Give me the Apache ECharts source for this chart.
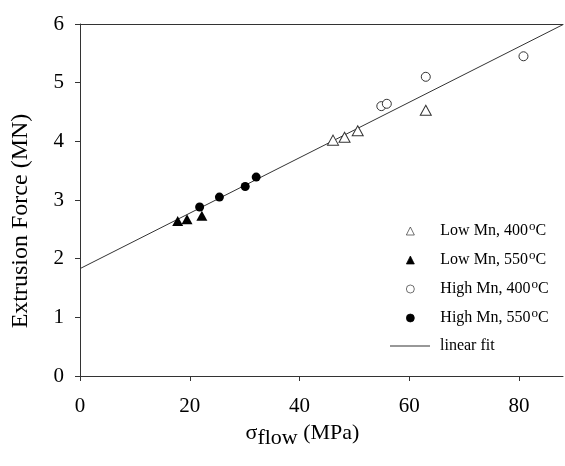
<!DOCTYPE html>
<html>
<head>
<meta charset="utf-8">
<script src="https://cdn.jsdelivr.net/npm/echarts@6/dist/echarts.min.js"></script>
<style>html,body{margin:0;padding:0;background:#fff}#c{width:565px;height:466px}</style>
</head>
<body>
<div id="c"></div>
<script>
// Data
const lowMn400X = [46.1, 48.2, 50.6, 63.0];
const lowMn400Y = [4.02, 4.07, 4.18, 4.53];
const lowMn550X = [17.8, 19.5, 22.2];
const lowMn550Y = [2.64, 2.67, 2.73];
const highMn400X = [54.9, 55.9, 63.0, 80.8];
const highMn400Y = [4.60, 4.64, 5.10, 5.45];
const highMn550X = [21.8, 25.4, 30.1, 32.1];
const highMn550Y = [2.88, 3.05, 3.23, 3.39];
const fitX = [0, 88];
const fitY = [1.83, 5.99];
const xTicks = [0, 20, 40, 60, 80];
const yTicks = [0, 1, 2, 3, 4, 5, 6];
const seriesNames = ['Low Mn, 400{sup|o}C', 'Low Mn, 550{sup|o}C', 'High Mn, 400{sup|o}C', 'High Mn, 550{sup|o}C', 'linear fit'];

const zip = (xs, ys) => xs.map((x, i) => [x, ys[i]]);
const font = 'Liberation Serif';
const axisColor = '#333';

const chart = echarts.init(document.getElementById('c'), null, {renderer: 'canvas'});
const supStyle = { fontFamily: font, fontSize: 13, color: '#000', verticalAlign: 'top', padding: [0, 0, 9, 1] };
const legendText = {
  fontFamily: font, fontSize: 16, color: '#000', padding: [0, 0, 0, 21],
  rich: { sup: supStyle }
};
chart.setOption({
  animation: false,
  grid: { left: 80, right: 2, top: 24, bottom: 90, containLabel: false },
  xAxis: [{
    type: 'value', min: 0, max: 88, interval: 20,
    name: 'σ{sub|flow} (MPa)', nameLocation: 'middle', nameGap: 42,
    nameTextStyle: { fontFamily: font, fontSize: 22, color: '#000', padding: [0, 38, 0, 0],
      rich: { sub: { fontFamily: font, fontSize: 22, color: '#000', padding: [9, 0, 0, 0] } } },
    axisLine: { show: true, lineStyle: { color: axisColor, width: 1 } },
    axisTick: { show: true, length: 5, inside: false, customValues: xTicks, lineStyle: { color: axisColor } },
    axisLabel: { customValues: xTicks, fontFamily: font, fontSize: 21, color: '#000', margin: 20 },
    splitLine: { show: false }
  }, {
    type: 'value', position: 'top', min: 0, max: 88,
    axisLine: { show: true, onZero: false, lineStyle: { color: axisColor, width: 1 } },
    axisTick: { show: false }, axisLabel: { show: false }, splitLine: { show: false }
  }],
  yAxis: {
    type: 'value', min: 0, max: 6, interval: 1,
    name: 'Extrusion Force (MN)', nameLocation: 'middle', nameGap: 47,
    nameTextStyle: { fontFamily: font, fontSize: 24, color: '#000', padding: [0, 42, 0, 0] },
    axisLine: { show: true, lineStyle: { color: axisColor, width: 1 } },
    axisTick: { show: true, length: 5, inside: false, lineStyle: { color: axisColor } },
    axisLabel: { fontFamily: font, fontSize: 21, color: '#000', margin: 16,
      formatter: v => (yTicks.indexOf(v) >= 0 ? String(v) : '') },
    splitLine: { show: false }
  },
  legend: [{
    orient: 'vertical', left: 406, top: 220, padding: 0, itemWidth: 8, itemHeight: 8, itemGap: 10,
    data: seriesNames.slice(0, 4), textStyle: legendText, selectedMode: false,
    itemStyle: { borderWidth: 0.7 }
  }, {
    orient: 'vertical', left: 390, top: 338, padding: 0, itemWidth: 40, itemHeight: 1, itemGap: 0,
    data: [{ name: seriesNames[4], icon: 'rect' }], itemStyle: { color: '#333' },
    textStyle: Object.assign({}, legendText, { padding: [0, 0, 0, 5] }), selectedMode: false
  }],
  series: [
    { name: seriesNames[0], type: 'scatter', data: zip(lowMn400X, lowMn400Y), symbol: 'triangle', symbolSize: [11, 10],
      itemStyle: { color: '#fff', borderColor: '#333', borderWidth: 1, opacity: 1 }, z: 3 },
    { name: seriesNames[1], type: 'scatter', data: zip(lowMn550X, lowMn550Y), symbol: 'triangle', symbolSize: [11, 10],
      itemStyle: { color: '#000', borderColor: '#000', borderWidth: 0, opacity: 1 }, z: 3 },
    { name: seriesNames[2], type: 'scatter', data: zip(highMn400X, highMn400Y), symbol: 'circle', symbolSize: 9,
      itemStyle: { color: '#fff', borderColor: '#333', borderWidth: 1, opacity: 1 }, z: 3 },
    { name: seriesNames[3], type: 'scatter', data: zip(highMn550X, highMn550Y), symbol: 'circle', symbolSize: 9,
      itemStyle: { color: '#000', borderColor: '#000', borderWidth: 0, opacity: 1 }, z: 3 },
    { name: seriesNames[4], type: 'line', data: zip(fitX, fitY), showSymbol: false, symbol: 'none',
      lineStyle: { color: '#333', width: 1 }, itemStyle: { color: '#333' }, z: 2 }
  ]
});
</script>
</body>
</html>
